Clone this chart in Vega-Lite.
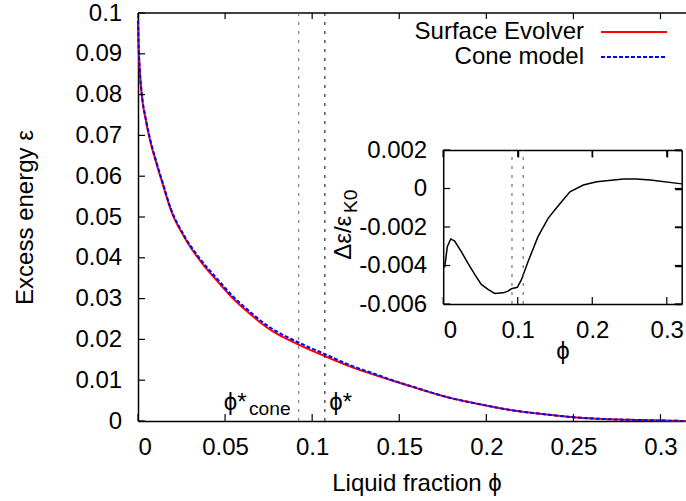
{
  "$schema": "https://vega.github.io/schema/vega-lite/v6.json",
  "width": 548,
  "height": 408,
  "autosize": {"type": "none"},
  "padding": {"left": 138, "top": 13, "right": 0, "bottom": 80},
  "background": "white",
  "config": {
    "view": {"stroke": null},
    "font": "Liberation Sans",
    "axis": {
      "grid": false,
      "labelColor": "black",
      "titleColor": "black",
      "labelFont": "Liberation Sans",
      "titleFont": "Liberation Sans",
      "labelFontSize": 24,
      "titleFontSize": 24,
      "titleFontWeight": "normal"
    }
  },
  "datasets": {
    "main": [
      {"phi": 0, "eps": 0.0978, "series": "Surface Evolver"},
      {"phi": 0.0003, "eps": 0.0925, "series": "Surface Evolver"},
      {"phi": 0.001, "eps": 0.086, "series": "Surface Evolver"},
      {"phi": 0.0022, "eps": 0.0798, "series": "Surface Evolver"},
      {"phi": 0.0045, "eps": 0.0737, "series": "Surface Evolver"},
      {"phi": 0.0074, "eps": 0.068, "series": "Surface Evolver"},
      {"phi": 0.0106, "eps": 0.0631, "series": "Surface Evolver"},
      {"phi": 0.0141, "eps": 0.0582, "series": "Surface Evolver"},
      {"phi": 0.0188, "eps": 0.0518, "series": "Surface Evolver"},
      {"phi": 0.026, "eps": 0.0455, "series": "Surface Evolver"},
      {"phi": 0.0355, "eps": 0.0394, "series": "Surface Evolver"},
      {"phi": 0.0451, "eps": 0.0345, "series": "Surface Evolver"},
      {"phi": 0.0546, "eps": 0.03, "series": "Surface Evolver"},
      {"phi": 0.0642, "eps": 0.0263, "series": "Surface Evolver"},
      {"phi": 0.0738, "eps": 0.023, "series": "Surface Evolver"},
      {"phi": 0.0929, "eps": 0.0186, "series": "Surface Evolver"},
      {"phi": 0.1073, "eps": 0.0159, "series": "Surface Evolver"},
      {"phi": 0.1216, "eps": 0.0134, "series": "Surface Evolver"},
      {"phi": 0.1388, "eps": 0.0109, "series": "Surface Evolver"},
      {"phi": 0.1446, "eps": 0.0101, "series": "Surface Evolver"},
      {"phi": 0.158, "eps": 0.0083, "series": "Surface Evolver"},
      {"phi": 0.1771, "eps": 0.0059, "series": "Surface Evolver"},
      {"phi": 0.1963, "eps": 0.0041, "series": "Surface Evolver"},
      {"phi": 0.2154, "eps": 0.0026, "series": "Surface Evolver"},
      {"phi": 0.2346, "eps": 0.0016, "series": "Surface Evolver"},
      {"phi": 0.2537, "eps": 0.0008, "series": "Surface Evolver"},
      {"phi": 0.2728, "eps": 0.0004, "series": "Surface Evolver"},
      {"phi": 0.292, "eps": 0.0002, "series": "Surface Evolver"},
      {"phi": 0.3146, "eps": 0.0, "series": "Surface Evolver"},
      {"phi": 0, "eps": 0.0982, "series": "Cone model"},
      {"phi": 0.0003, "eps": 0.0928, "series": "Cone model"},
      {"phi": 0.001, "eps": 0.0863, "series": "Cone model"},
      {"phi": 0.0022, "eps": 0.0801, "series": "Cone model"},
      {"phi": 0.0045, "eps": 0.074, "series": "Cone model"},
      {"phi": 0.0074, "eps": 0.0683, "series": "Cone model"},
      {"phi": 0.0106, "eps": 0.0634, "series": "Cone model"},
      {"phi": 0.0141, "eps": 0.0585, "series": "Cone model"},
      {"phi": 0.0188, "eps": 0.0521, "series": "Cone model"},
      {"phi": 0.026, "eps": 0.0458, "series": "Cone model"},
      {"phi": 0.0355, "eps": 0.0398, "series": "Cone model"},
      {"phi": 0.0451, "eps": 0.035, "series": "Cone model"},
      {"phi": 0.0546, "eps": 0.0305, "series": "Cone model"},
      {"phi": 0.0642, "eps": 0.0268, "series": "Cone model"},
      {"phi": 0.0738, "eps": 0.0235, "series": "Cone model"},
      {"phi": 0.0929, "eps": 0.0191, "series": "Cone model"},
      {"phi": 0.1073, "eps": 0.0164, "series": "Cone model"},
      {"phi": 0.1216, "eps": 0.0137, "series": "Cone model"},
      {"phi": 0.1388, "eps": 0.0111, "series": "Cone model"},
      {"phi": 0.1446, "eps": 0.0102, "series": "Cone model"},
      {"phi": 0.158, "eps": 0.0084, "series": "Cone model"},
      {"phi": 0.1771, "eps": 0.0059, "series": "Cone model"},
      {"phi": 0.1963, "eps": 0.0041, "series": "Cone model"},
      {"phi": 0.2154, "eps": 0.0026, "series": "Cone model"},
      {"phi": 0.2346, "eps": 0.0016, "series": "Cone model"},
      {"phi": 0.2537, "eps": 0.0008, "series": "Cone model"},
      {"phi": 0.2728, "eps": 0.0004, "series": "Cone model"},
      {"phi": 0.292, "eps": 0.0002, "series": "Cone model"},
      {"phi": 0.3146, "eps": 0.0, "series": "Cone model"}
    ],
    "inset": [
      {"phi": 0.002, "d": -0.0041},
      {"phi": 0.0055, "d": -0.00302},
      {"phi": 0.0101, "d": -0.00262},
      {"phi": 0.0154, "d": -0.00273},
      {"phi": 0.0243, "d": -0.00328},
      {"phi": 0.0333, "d": -0.00389},
      {"phi": 0.0423, "d": -0.00446},
      {"phi": 0.0511, "d": -0.00498},
      {"phi": 0.0601, "d": -0.00524},
      {"phi": 0.0691, "d": -0.00545},
      {"phi": 0.0803, "d": -0.00542},
      {"phi": 0.087, "d": -0.00533},
      {"phi": 0.0914, "d": -0.00521},
      {"phi": 0.0995, "d": -0.00513},
      {"phi": 0.1048, "d": -0.00475},
      {"phi": 0.1138, "d": -0.0038},
      {"phi": 0.1272, "d": -0.0025},
      {"phi": 0.1407, "d": -0.00155},
      {"phi": 0.1532, "d": -0.00095},
      {"phi": 0.17, "d": -0.00017},
      {"phi": 0.188, "d": 0.00018},
      {"phi": 0.206, "d": 0.00035},
      {"phi": 0.242, "d": 0.00049},
      {"phi": 0.259, "d": 0.00049},
      {"phi": 0.278, "d": 0.00044},
      {"phi": 0.32, "d": 0.00024}
    ],
    "vlines": [
      {"phi": 0.0923, "name": "cone"},
      {"phi": 0.1073, "name": "se"}
    ],
    "mainXTicks": [
      {"phi": 0}, {"phi": 0.05}, {"phi": 0.1}, {"phi": 0.15}, {"phi": 0.2}, {"phi": 0.25}, {"phi": 0.3}
    ],
    "mainYTicks": [
      {"eps": 0}, {"eps": 0.01}, {"eps": 0.02}, {"eps": 0.03}, {"eps": 0.04}, {"eps": 0.05},
      {"eps": 0.06}, {"eps": 0.07}, {"eps": 0.08}, {"eps": 0.09}, {"eps": 0.1}
    ],
    "insetXTicks": [
      {"phi": 0}, {"phi": 0.1}, {"phi": 0.2}, {"phi": 0.3}
    ],
    "insetYTicks": [
      {"d": -0.006}, {"d": -0.004}, {"d": -0.002}, {"d": 0}, {"d": 0.002}
    ]
  },
  "layer": [
    {
      "layer": [
        {
          "data": {"name": "main"},
          "mark": {"type": "line", "strokeWidth": 2, "interpolate": "monotone"},
          "encoding": {
            "x": {
              "field": "phi", "type": "quantitative",
              "scale": {"domain": [0, 0.31465], "nice": false, "zero": false},
              "axis": {
                "orient": "bottom",
                "domainColor": "black", "domainWidth": 1.5,
                "tickSize": 7, "tickWidth": 1.5, "tickColor": "transparent",
                "values": [0, 0.05, 0.1, 0.15, 0.2, 0.25, 0.3],
                "labelExpr": "toString(datum.value)",
                "labelBaseline": "alphabetic",
                "labelPadding": 26,
                "title": "Liquid fraction ϕ",
                "titleX": 278.5,
                "titleY": 69,
                "titleBaseline": "alphabetic"
              }
            },
            "y": {
              "field": "eps", "type": "quantitative",
              "scale": {"domain": [0, 0.1], "nice": false, "zero": false},
              "axis": {
                "orient": "left",
                "domainColor": "black", "domainWidth": 1.5,
                "tickSize": 7, "tickWidth": 1.5, "tickColor": "transparent",
                "values": [0, 0.01, 0.02, 0.03, 0.04, 0.05, 0.06, 0.07, 0.08, 0.09, 0.1],
                "labelExpr": "toString(datum.value)",
                "labelPadding": 9.3,
                "title": "Excess energy ε",
                "titleX": -106,
                "titleY": 204,
                "titleAngle": 270,
                "titleBaseline": "alphabetic",
                "titleAlign": "center"
              }
            },
            "color": {
              "field": "series", "type": "nominal",
              "scale": {"domain": ["Surface Evolver", "Cone model"], "range": ["#ff0000", "#0000ff"]},
              "legend": {
                "orient": "none", "legendX": 484, "legendY": 7, "title": null,
                "symbolType": "M-33,0H33", "symbolSize": 4, "symbolStrokeWidth": 2,
                "labelAlign": "right", "labelOffset": -62, "labelFontSize": 24,
                "labelFont": "Liberation Sans", "labelColor": "black", "labelLimit": 400,
                "rowPadding": 1, "padding": 0
              }
            },
            "strokeDash": {
              "field": "series", "type": "nominal",
              "scale": {"domain": ["Surface Evolver", "Cone model"], "range": [[1, 0], [4, 2]]},
              "legend": {
                "orient": "none", "legendX": 484, "legendY": 7, "title": null,
                "symbolType": "M-33,0H33", "symbolSize": 4, "symbolStrokeWidth": 2,
                "labelAlign": "right", "labelOffset": -62, "labelFontSize": 24,
                "labelFont": "Liberation Sans", "labelColor": "black", "labelLimit": 400,
                "rowPadding": 1, "padding": 0
              }
            }
          }
        },
        {
          "data": {"name": "mainXTicks"},
          "mark": {"type": "rule", "color": "black", "strokeWidth": 1.2},
          "encoding": {
            "x": {"field": "phi", "type": "quantitative"},
            "y": {"datum": 0},
            "y2": {"datum": 0.0017}
          }
        },
        {
          "data": {"name": "mainXTicks"},
          "mark": {"type": "rule", "color": "black", "strokeWidth": 1.2},
          "encoding": {
            "x": {"field": "phi", "type": "quantitative"},
            "y": {"datum": 0.1},
            "y2": {"datum": 0.0985}
          }
        },
        {
          "data": {"name": "mainYTicks"},
          "mark": {"type": "rule", "color": "black", "strokeWidth": 1.2},
          "encoding": {
            "y": {"field": "eps", "type": "quantitative"},
            "x": {"datum": 0},
            "x2": {"datum": 0.004}
          }
        },
        {
          "data": {"values": [{"eps": 0.1}]},
          "mark": {"type": "rule", "color": "black", "strokeWidth": 1.5},
          "encoding": {"y": {"field": "eps", "type": "quantitative"}}
        },
        {
          "data": {"name": "vlines"},
          "transform": [{"filter": "datum.name === 'cone'"}],
          "mark": {"type": "rule", "color": "#666", "strokeWidth": 1, "strokeDash": [3, 6]},
          "encoding": {"x": {"field": "phi", "type": "quantitative"}}
        },
        {
          "data": {"name": "vlines"},
          "transform": [{"filter": "datum.name === 'se'"}],
          "mark": {"type": "rule", "color": "black", "strokeWidth": 1, "strokeDash": [3, 6]},
          "encoding": {"x": {"field": "phi", "type": "quantitative"}}
        },
        {
          "data": {"values": [{"phi": 0.0492, "eps": 0.00275, "t": "ϕ*"}, {"phi": 0.1098, "eps": 0.00275, "t": "ϕ*"}]},
          "mark": {"type": "text", "align": "left", "baseline": "alphabetic", "fontSize": 24, "font": "Liberation Sans", "color": "black"},
          "encoding": {
            "x": {"field": "phi", "type": "quantitative"},
            "y": {"field": "eps", "type": "quantitative"},
            "text": {"field": "t"}
          }
        },
        {
          "data": {"values": [{"phi": 0.0637, "eps": 0.0014, "t": "cone"}]},
          "mark": {"type": "text", "align": "left", "baseline": "alphabetic", "fontSize": 19.2, "font": "Liberation Sans", "color": "black"},
          "encoding": {
            "x": {"field": "phi", "type": "quantitative"},
            "y": {"field": "eps", "type": "quantitative"},
            "text": {"field": "t"}
          }
        }
      ]
    },
    {
      "layer": [
        {
          "data": {"name": "inset"},
          "mark": {"type": "line", "color": "black", "strokeWidth": 1.5},
          "encoding": {
            "x": {
              "field": "phi", "type": "quantitative",
              "scale": {"domain": [0, 0.32], "range": [305.2, 543.7], "nice": false, "zero": false},
              "axis": {
                "orient": "bottom", "offset": -117,
                "domainColor": "black", "domainWidth": 1.5,
                "tickSize": 7, "tickWidth": 1.5, "tickColor": "transparent",
                "values": [0, 0.1, 0.2, 0.3],
                "labelExpr": "toString(datum.value)",
                "labelBaseline": "alphabetic",
                "labelPadding": 26,
                "title": "ϕ",
                "titleY": 54,
                "titleBaseline": "alphabetic"
              }
            },
            "y": {
              "field": "d", "type": "quantitative",
              "scale": {"domain": [-0.006, 0.002], "range": [291, 137], "nice": false, "zero": false},
              "axis": {
                "orient": "left", "offset": -305.2,
                "domainColor": "black", "domainWidth": 1.5,
                "tickSize": 7, "tickWidth": 1.5, "tickColor": "transparent",
                "values": [-0.006, -0.004, -0.002, 0, 0.002],
                "labelExpr": "toString(datum.value)",
                "labelPadding": 9.5,
                "title": "Δε/ε",
                "titleX": -93,
                "titleY": 224.3,
                "titleAngle": 270,
                "titleBaseline": "alphabetic",
                "titleAlign": "center"
              }
            }
          }
        },
        {
          "data": {"name": "insetXTicks"},
          "mark": {"type": "rule", "color": "black", "strokeWidth": 1.2},
          "encoding": {
            "x": {"field": "phi", "type": "quantitative"},
            "y": {"datum": -0.006},
            "y2": {"datum": -0.00564}
          }
        },
        {
          "data": {"name": "insetXTicks"},
          "mark": {"type": "rule", "color": "black", "strokeWidth": 1.2},
          "encoding": {
            "x": {"field": "phi", "type": "quantitative"},
            "y": {"datum": 0.002},
            "y2": {"datum": 0.00164}
          }
        },
        {
          "data": {"name": "insetYTicks"},
          "mark": {"type": "rule", "color": "black", "strokeWidth": 1.2},
          "encoding": {
            "y": {"field": "d", "type": "quantitative"},
            "x": {"datum": 0},
            "x2": {"datum": 0.0094}
          }
        },
        {
          "data": {"name": "insetYTicks"},
          "mark": {"type": "rule", "color": "black", "strokeWidth": 1.2},
          "encoding": {
            "y": {"field": "d", "type": "quantitative"},
            "x": {"datum": 0.32},
            "x2": {"datum": 0.3106}
          }
        },
        {
          "data": {"name": "vlines"},
          "mark": {"type": "rule", "color": "#555", "strokeWidth": 1, "strokeDash": [3, 6]},
          "encoding": {
            "x": {"field": "phi", "type": "quantitative"},
            "y": {"datum": -0.006},
            "y2": {"datum": 0.002}
          }
        },
        {
          "data": {"values": [{"phi": -0.1161, "d": -0.00127, "t": "K0"}]},
          "mark": {"type": "text", "angle": 270, "align": "left", "baseline": "alphabetic", "fontSize": 19.2, "font": "Liberation Sans", "color": "black"},
          "encoding": {
            "x": {"field": "phi", "type": "quantitative"},
            "y": {"field": "d", "type": "quantitative"},
            "text": {"field": "t"}
          }
        }
      ]
    },
    {
      "data": {"name": "inset"},
      "mark": {"type": "point", "opacity": 0},
      "encoding": {
        "x": {
          "field": "phi", "type": "quantitative",
          "scale": {"domain": [0, 0.32], "range": [305.2, 543.7], "nice": false, "zero": false},
          "axis": {"orient": "bottom", "offset": -271, "domain": true, "domainColor": "black", "domainWidth": 1.5, "tickSize": 7, "tickWidth": 1.5, "tickColor": "black", "values": [0, 0.1, 0.2, 0.3], "labels": false, "title": null}
        },
        "y": {
          "field": "d", "type": "quantitative",
          "scale": {"domain": [-0.006, 0.002], "range": [291, 137], "nice": false, "zero": false},
          "axis": {"orient": "left", "offset": -543.7, "domain": true, "domainColor": "black", "domainWidth": 1.5, "tickSize": 7, "tickWidth": 1.5, "tickColor": "black", "values": [-0.006, -0.004, -0.002, 0, 0.002], "labels": false, "title": null}
        }
      }
    }
  ],
  "resolve": {
    "scale": {"x": "independent", "y": "independent"},
    "axis": {"x": "independent", "y": "independent"}
  }
}
